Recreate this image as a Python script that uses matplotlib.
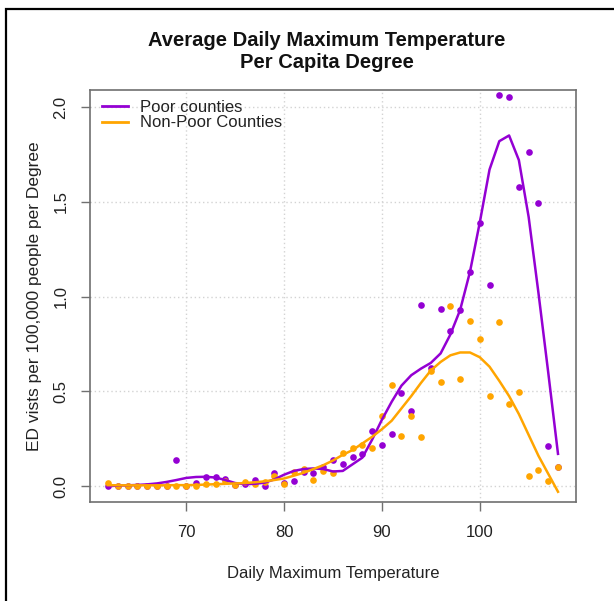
import matplotlib
matplotlib.use("Agg")
import matplotlib.pyplot as plt
from matplotlib.patches import Rectangle

plt.rcParams['font.family'] = ['Liberation Sans', 'DejaVu Sans']

temps = list(range(62, 109))

poor_points = [0.0, 0.0, 0.0, 0.0, 0.0, 0.0, 0.0, 0.137, 0.0, 0.014,
               0.049, 0.049, 0.040, 0.005, 0.010, 0.030, 0.002, 0.071, 0.017, 0.026,
               0.076, 0.068, 0.100, 0.137, 0.116, 0.151, 0.169, 0.292, 0.217, 0.273,
               0.492, 0.396, 0.957, 0.623, 0.932, 0.816, 0.930, 1.128, 1.390, 1.062,
               2.062, 2.051, 1.580, 1.764, 1.495, 0.211, 0.100]

nonpoor_points = [0.014, 0.0, 0.0, 0.0, 0.0, 0.0, 0.0, 0.0, 0.0, 0.0,
                  0.009, 0.010, 0.028, 0.005, 0.023, 0.010, 0.023, 0.053, 0.012, 0.074,
                  0.089, 0.032, 0.079, 0.070, 0.177, 0.202, 0.215, 0.200, 0.369, 0.531,
                  0.266, 0.368, 0.260, 0.608, 0.549, 0.951, 0.563, 0.872, 0.776, 0.473,
                  0.864, 0.434, 0.496, 0.054, 0.086, 0.028, 0.102]

poor_fit = [0.0, 0.002, 0.004, 0.006, 0.009, 0.014, 0.022, 0.032, 0.043, 0.048,
            0.049, 0.045, 0.032, 0.016, 0.010, 0.012, 0.018, 0.035, 0.060, 0.080,
            0.090, 0.093, 0.090, 0.077, 0.080, 0.115, 0.150, 0.245, 0.350, 0.445,
            0.530, 0.585, 0.620, 0.650, 0.700, 0.800, 0.930, 1.130, 1.390, 1.670,
            1.820, 1.850, 1.720, 1.420, 1.020, 0.600, 0.170]

nonpoor_fit = [0.005, 0.004, 0.004, 0.004, 0.004, 0.004, 0.004, 0.005, 0.005, 0.006,
               0.008, 0.010, 0.012, 0.014, 0.016, 0.020, 0.025, 0.032, 0.040, 0.055,
               0.070, 0.090, 0.110, 0.135, 0.165, 0.190, 0.225, 0.260, 0.300, 0.345,
               0.410, 0.475, 0.545, 0.610, 0.655, 0.690, 0.705, 0.705, 0.680, 0.630,
               0.555, 0.475, 0.380, 0.270, 0.160, 0.065, -0.030]

x_ticks = [70, 80, 90, 100]
y_ticks = [0.0, 0.5, 1.0, 1.5, 2.0]
y_tick_labels = ["0.0", "0.5", "1.0", "1.5", "2.0"]

PURPLE = "#9400D3"
ORANGE = "#FFA500"

W, H = 614, 601
fig = plt.figure(figsize=(W / 100, H / 100), dpi=100)
ax = fig.add_axes([90 / W, 1 - 502 / H, (576 - 90) / W, (502 - 90) / H])

# grid
for xt in x_ticks:
    ax.axvline(xt, color="#D3D3D3", lw=1.0, ls=(0, (1, 2)), zorder=0)
for yt in y_ticks:
    ax.axhline(yt, color="#D3D3D3", lw=1.0, ls=(0, (1, 2)), zorder=0)

ax.plot(temps, poor_points, "o", color=PURPLE, ms=4.8, mew=0, zorder=2)
ax.plot(temps, nonpoor_points, "o", color=ORANGE, ms=4.8, mew=0, zorder=3)
ax.plot(temps, poor_fit, "-", color=PURPLE, lw=1.8, zorder=4, label="Poor counties")
ax.plot(temps, nonpoor_fit, "-", color=ORANGE, lw=1.8, zorder=4, label="Non-Poor Counties")

ax.set_xlim(60.16, 109.84)
ax.set_ylim(-0.084, 2.09)
ax.set_xticks(x_ticks)
ax.set_yticks(y_ticks)
ax.set_yticklabels(y_tick_labels, rotation=90, va="center")

for sp in ax.spines.values():
    sp.set_color("#707070")
    sp.set_linewidth(1.2)
ax.tick_params(axis="both", direction="out", length=6.5, width=1.0, color="#707070",
               labelsize=12, labelcolor="#222222")
ax.tick_params(axis="x", pad=10)
ax.tick_params(axis="y", pad=9)

ax.set_xlabel("Daily Maximum Temperature", fontsize=12, color="#222222", labelpad=19)
ax.set_ylabel("ED vists per 100,000 people per Degree", fontsize=12.5, color="#222222", labelpad=8)

fig.text(327 / W, 1 - 41 / H, "Average Daily Maximum Temperature", ha="center", va="center",
         fontsize=14.5, fontweight="bold", color="#111111")
fig.text(327 / W, 1 - 63 / H, "Per Capita Degree", ha="center", va="center",
         fontsize=14.5, fontweight="bold", color="#111111")

leg = ax.legend(loc="upper left", frameon=False, fontsize=12, handlelength=1.6,
                handletextpad=0.7, labelspacing=0.05, borderaxespad=0.3,
                bbox_to_anchor=(0.0, 1.005))
for line in leg.get_lines():
    line.set_linewidth(2.0)
for t in leg.get_texts():
    t.set_color("#222222")

frame = Rectangle((5.5 / W, -0.2), 2.0, 1.2 - 8.5 / H, transform=fig.transFigure,
                  fill=False, edgecolor="black", lw=1.6)
fig.patches.append(frame)

fig.savefig("out.png", dpi=100)
